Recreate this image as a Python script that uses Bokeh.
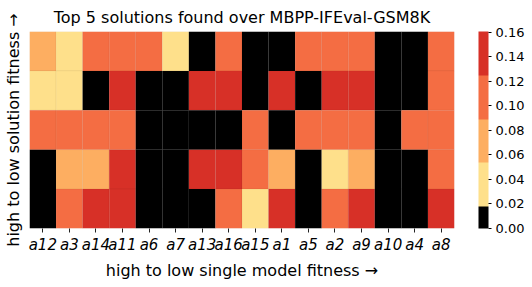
from bokeh.plotting import figure
from bokeh.models import (FactorRange, LinearColorMapper, ColorBar, FixedTicker,
                          PrintfTickFormatter, ColumnDataSource)
from bokeh.embed import file_html
from bokeh.resources import INLINE

# ---- data ----
columns = ["a12", "a3", "a14", "a11", "a6", "a7", "a13", "a16",
           "a15", "a1", "a5", "a2", "a9", "a10", "a4", "a8"]
column_labels = ["α₁₂", "α₃", "α₁₄", "α₁₁", "α₆", "α₇", "α₁₃", "α₁₆",
                 "α₁₅", "α₁", "α₅", "α₂", "α₉", "α₁₀", "α₄", "α₈"]
rows = ["s1", "s2", "s3", "s4", "s5"]  # high to low solution fitness

row_s1 = [0.071, 0.036, 0.107, 0.107, 0.107, 0.036, 0.0, 0.107, 0.0, 0.0, 0.107, 0.107, 0.107, 0.0, 0.0, 0.107]
row_s2 = [0.036, 0.036, 0.0, 0.143, 0.0, 0.0, 0.143, 0.143, 0.0, 0.143, 0.0, 0.143, 0.143, 0.0, 0.0, 0.107]
row_s3 = [0.107, 0.107, 0.107, 0.107, 0.0, 0.0, 0.0, 0.0, 0.107, 0.0, 0.107, 0.107, 0.107, 0.0, 0.107, 0.107]
row_s4 = [0.0, 0.071, 0.071, 0.143, 0.0, 0.0, 0.143, 0.143, 0.107, 0.071, 0.0, 0.036, 0.071, 0.0, 0.0, 0.107]
row_s5 = [0.0, 0.107, 0.143, 0.143, 0.0, 0.0, 0.0, 0.107, 0.036, 0.143, 0.0, 0.107, 0.143, 0.0, 0.0, 0.143]
row_values = [row_s1, row_s2, row_s3, row_s4, row_s5]

# colour bins of width 1/56 from 0 to 9/56 (black, then pairs of each colour)
palette = ["#000000",
           "#fee08b", "#fee08b",
           "#fdae61", "#fdae61",
           "#f46d43", "#f46d43",
           "#d73027", "#d73027"]
cbar_ticks = [0.00, 0.02, 0.04, 0.06, 0.08, 0.10, 0.12, 0.14, 0.16]

xs, ys, vs = [], [], []
for r, vals in zip(rows, row_values):
    for c, v in zip(columns, vals):
        xs.append(c)
        ys.append(r)
        vs.append(v)
src = ColumnDataSource(dict(x=xs, y=ys, v=vs))

FONT = "DejaVu Sans"

p = figure(output_backend="svg", toolbar_location=None,
           x_range=FactorRange(*columns), y_range=FactorRange(*reversed(rows)),
           frame_width=425, frame_height=197,
           min_border_left=19, min_border_top=25, min_border_bottom=10, min_border_right=0,
           title="Top 5 solutions found over MBPP-IFEval-GSM8K")
p.title.align = "center"
p.title.text_font = FONT
p.title.text_font_size = "16px"
p.title.text_font_style = "normal"
p.title.text_color = "black"

mapper = LinearColorMapper(palette=palette, low=0.0, high=9/56)
p.rect(x="x", y="y", width=1, height=1, source=src,
       fill_color={"field": "v", "transform": mapper},
       line_color="black", line_alpha=0.08, line_width=0.5)

p.outline_line_color = None
p.grid.grid_line_color = None
p.x_range.range_padding = 0
p.y_range.range_padding = 0

xa = p.xaxis[0]
xa.major_label_overrides = dict(zip(columns, column_labels))
xa.axis_line_color = None
xa.major_tick_in = 0
xa.major_tick_out = 4
xa.major_tick_line_color = "#222222"
xa.major_label_text_font = FONT
xa.major_label_text_font_size = "15px"
xa.major_label_text_font_style = "italic"
xa.major_label_text_color = "black"
xa.major_label_standoff = 3
xa.axis_label = "high to low single model fitness →"
xa.axis_label_text_font = FONT
xa.axis_label_text_font_size = "16px"
xa.axis_label_text_font_style = "normal"
xa.axis_label_text_color = "black"
xa.axis_label_standoff = 4

ya = p.yaxis[0]
ya.ticker = FixedTicker(ticks=[])
ya.axis_line_color = None
ya.major_tick_line_color = None
ya.minor_tick_line_color = None
ya.major_label_standoff = 0
ya.axis_label = "high to low solution fitness →"
ya.axis_label_text_font = FONT
ya.axis_label_text_font_size = "16px"
ya.axis_label_text_font_style = "normal"
ya.axis_label_text_color = "black"
ya.axis_label_standoff = 7

cb = ColorBar(color_mapper=mapper,
              ticker=FixedTicker(ticks=cbar_ticks),
              formatter=PrintfTickFormatter(format="%.2f"),
              width=10, margin=0, padding=0, location=(24, 0),
              major_tick_in=0, major_tick_out=3, major_tick_line_color="black",
              minor_tick_line_color=None, bar_line_color=None,
              major_label_text_font=FONT, major_label_text_font_size="13px",
              major_label_text_color="black",
              label_standoff=4, background_fill_color=None, border_line_color=None)
p.add_layout(cb, "right")

open("out.html", "w").write(file_html(p, INLINE))
